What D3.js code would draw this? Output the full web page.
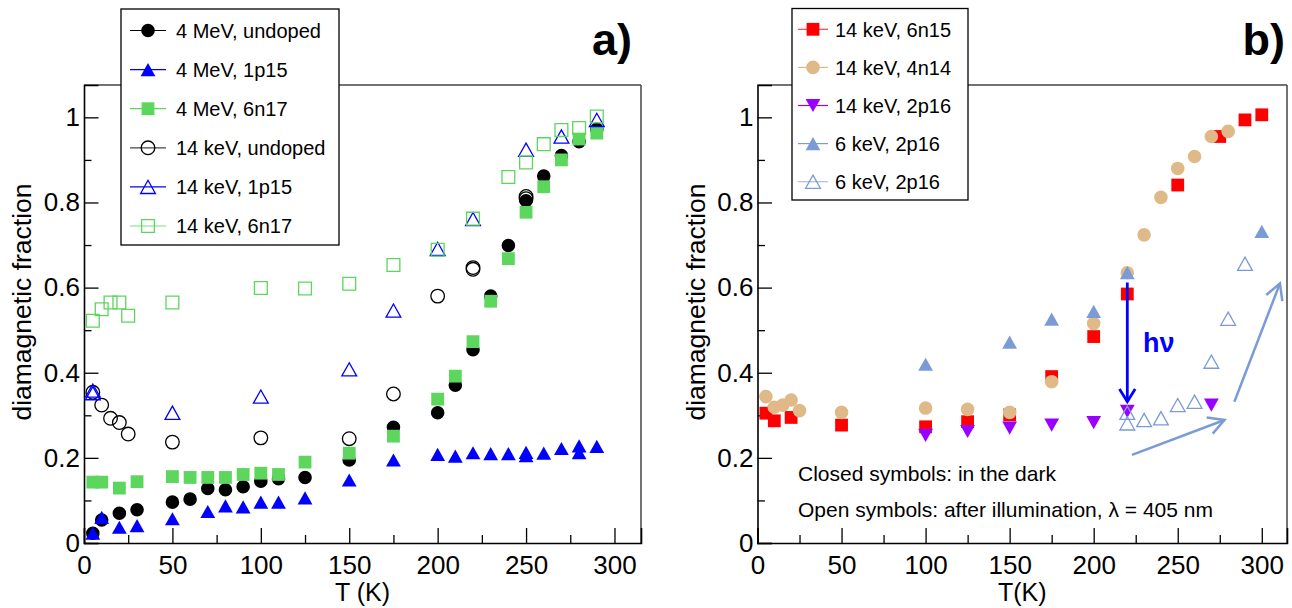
<!DOCTYPE html>
<html><head><meta charset="utf-8">
<script src="https://cdn.jsdelivr.net/npm/d3@7"></script>
<style>
body{margin:0;background:#fff}
svg{display:block}
text{font-family:"Liberation Sans",Arial,Helvetica,sans-serif;fill:#000}
</style>
</head><body>
<svg id="c" width="1292" height="608"></svg>
<script>
// ---------------- DATA ----------------
// Panel a)
const labelsA = ["4 MeV, undoped","4 MeV, 1p15","4 MeV, 6n17","14 keV, undoped","14 keV, 1p15","14 keV, 6n17"];
const tMeVUndoped = [5,10,20,30,50,60,70,80,90,100,110,125,150,175,200,210,220,230,240,250,260,270,280,290];
const vMeVUndoped = [0.023,0.054,0.070,0.078,0.096,0.103,0.128,0.125,0.132,0.145,0.151,0.154,0.195,0.272,0.306,0.371,0.454,0.580,0.699,0.804,0.862,0.910,0.943,0.972];
const tMeV1p15 = [5,10,20,30,50,70,80,90,100,110,125,150,175,200,210,220,230,240,250,250,260,270,280,280,290];
const vMeV1p15 = [0.023,0.060,0.037,0.041,0.057,0.074,0.087,0.085,0.096,0.096,0.106,0.148,0.195,0.208,0.204,0.212,0.210,0.210,0.213,0.205,0.211,0.222,0.228,0.212,0.227];
const tMeV6n17 = [5,10,20,30,50,60,70,80,90,100,110,125,150,175,200,210,220,230,240,250,260,270,280,290];
const vMeV6n17 = [0.143,0.143,0.129,0.144,0.156,0.154,0.154,0.154,0.161,0.164,0.161,0.190,0.211,0.251,0.338,0.392,0.473,0.568,0.668,0.777,0.837,0.900,0.949,0.963];
const tKeVUndoped = [5,10,15,20,25,50,100,150,175,200,220,220,250,250];
const vKeVUndoped = [0.354,0.324,0.293,0.283,0.256,0.237,0.247,0.245,0.350,0.580,0.643,0.647,0.809,0.814];
const tKeV1p15 = [5,5,50,100,150,175,200,220,250,270,290];
const vKeV1p15 = [0.352,0.358,0.306,0.344,0.408,0.546,0.691,0.761,0.924,0.955,0.994];
const tKeV6n17 = [5,10,15,20,25,50,100,125,150,175,200,220,240,250,260,270,280,290];
const vKeV6n17 = [0.522,0.549,0.565,0.565,0.534,0.565,0.599,0.598,0.609,0.653,0.689,0.762,0.860,0.894,0.937,0.970,0.975,1.002];

// Panel b)
const labelsB = ["14 keV, 6n15","14 keV, 4n14","14 keV, 2p16","6 keV, 2p16","6 keV, 2p16"];
const t6n15 = [5,10,20,50,100,125,150,175,200,220,250,275,290,300];
const v6n15 = [0.305,0.287,0.295,0.277,0.273,0.285,0.301,0.391,0.485,0.585,0.841,0.955,0.994,1.006];
const t4n14 = [5,10,15,20,25,50,100,125,150,175,200,220,230,240,250,260,270,280];
const v4n14 = [0.344,0.319,0.324,0.336,0.311,0.307,0.317,0.314,0.307,0.379,0.516,0.635,0.724,0.812,0.880,0.908,0.955,0.967];
const t14keV2p16 = [100,125,150,175,200,220,270];
const v14keV2p16 = [0.253,0.262,0.270,0.277,0.283,0.309,0.324];
const t6keVDark = [100,150,175,200,220,300];
const v6keVDark = [0.420,0.472,0.526,0.544,0.635,0.732];
const t6keVLight = [220,220,230,240,250,260,270,280,290];
const v6keVLight = [0.281,0.306,0.289,0.293,0.324,0.332,0.426,0.527,0.656];

// Annotation arrows (in data units: T, fraction)
const hvArrow = [[220,0.612],[220,0.332]];
const lightArrows = [[[222.8,0.207],[277.8,0.289]],[[283.7,0.332],[310.8,0.610]]];

// Axis ticks
const xMajor = [0,50,100,150,200,250,300];
const xMinor = [25,75,125,175,225,275];
const yMajor = [0,0.2,0.4,0.6,0.8,1];
const yMinor = [0.1,0.3,0.5,0.7,0.9];
const yTickLabels = ["0","0.2","0.4","0.6","0.8","1"];

// ---------------- STYLES ----------------
const stylesA = [
  {shape:"circle", color:"#000000", filled:true, line:"#000000"},
  {shape:"tri", color:"#0000ff", filled:true, line:"#0000ff"},
  {shape:"square", color:"#5cd65c", filled:true, line:"#5cd65c"},
  {shape:"circle", color:"#000000", filled:false, line:"#444444"},
  {shape:"tri", color:"#0000ff", filled:false, line:"#0000ff"},
  {shape:"square", color:"#5cd65c", filled:false, line:"#7ddc7d"}
];
const stylesB = [
  {shape:"square", color:"#ff0000", filled:true, line:"#ff4040"},
  {shape:"circle", color:"#dfba88", filled:true, line:"#dfba88"},
  {shape:"tridown", color:"#9900ff", filled:true, line:"#9900ff"},
  {shape:"tri", color:"#7b9bd6", filled:true, line:"#7b9bd6"},
  {shape:"tri", color:"#7b9bd6", filled:false, line:"#a9bde6"}
];

const seriesA = [[tMeVUndoped,vMeVUndoped],[tMeV1p15,vMeV1p15],[tMeV6n17,vMeV6n17],[tKeVUndoped,vKeVUndoped],[tKeV1p15,vKeV1p15],[tKeV6n17,vKeV6n17]];
const seriesB = [[t6n15,v6n15],[t4n14,v4n14],[t14keV2p16,v14keV2p16],[t6keVDark,v6keVDark],[t6keVLight,v6keVLight]];

function markerPath(shape){
  if(shape==="circle") return d3.symbol(d3.symbolCircle, Math.PI*6.8*6.8)();
  if(shape==="square"){const h=6.4;return `M${-h},${-h}H${h}V${h}H${-h}Z`;}
  const w=7.4, h=6.6;
  if(shape==="tri") return `M0,${-h}L${w},${h}L${-w},${h}Z`;
  return `M0,${h}L${w},${-h}L${-w},${-h}Z`;
}
function styleMarker(sel, st){
  sel.attr("d", markerPath(st.shape))
     .attr("fill", st.filled ? st.color : "none")
     .attr("stroke", st.filled ? "none" : st.color)
     .attr("stroke-width", st.filled ? 0 : 1.3);
}

const svg = d3.select("#c");
const y = d3.scaleLinear().domain([0,1.076]).range([543,85]);

const panels = [
  {x:d3.scaleLinear().domain([0,315]).range([84,641]), series:seriesA, styles:stylesA, labels:labelsA,
   tag:"a)", tagX:632, xTitle:"T (K)", yTitleX:22,
   legend:{x0:121,y0:9,x1:339,y1:245,first:30.5,step:39.1,mx:148,lx0:130,lx1:166,tx:176}},
  {x:d3.scaleLinear().domain([0,315]).range([757.5,1287]), series:seriesB, styles:stylesB, labels:labelsB,
   tag:"b)", tagX:1285, xTitle:"T(K)", yTitleX:696,
   legend:{x0:792,y0:8.5,x1:968,y1:200,first:29.3,step:38.1,mx:813,lx0:798,lx1:828,tx:835}}
];

panels.forEach((p,pi)=>{
  const x = p.x;
  const [xl,xr] = x.range(), [yb,yt] = y.range();
  const g = svg.append("g");
  // frame
  g.append("line").attr("x1",xl).attr("x2",xr).attr("y1",yt).attr("y2",yt).attr("stroke","#444").attr("stroke-width",1.5);
  g.append("line").attr("x1",xr).attr("x2",xr).attr("y1",yt).attr("y2",yb).attr("stroke","#444").attr("stroke-width",1.5);

  // axes
  const ax = d3.axisBottom(x).tickValues(xMajor).tickSize(-15).tickPadding(13).tickFormat(d3.format("d"));
  const axG = g.append("g").attr("transform",`translate(0,${yb})`).call(ax);
  const axm = d3.axisBottom(x).tickValues(xMinor).tickSize(-8).tickFormat("");
  g.append("g").attr("transform",`translate(0,${yb})`).call(axm).select(".domain").remove();
  const ay = d3.axisLeft(y).tickValues(yMajor).tickSize(-14.5).tickPadding(4).tickFormat((d,i)=>yTickLabels[i]);
  const ayG = g.append("g").attr("transform",`translate(${xl},0)`).call(ay);
  const aym = d3.axisLeft(y).tickValues(yMinor).tickSize(-7.5).tickFormat("");
  g.append("g").attr("transform",`translate(${xl},0)`).call(aym).select(".domain").remove();
  [axG,ayG].forEach(a=>{
    a.select(".domain").attr("stroke","#000").attr("stroke-width",1.6);
    a.selectAll("text").attr("font-size",26).attr("font-family","'Liberation Sans',Arial,sans-serif").attr("fill","#000");
  });
  g.selectAll(".tick line").attr("stroke","#000").attr("stroke-width",1.3);

  // titles
  g.append("text").attr("x",(xl+xr)/2).attr("y",601).attr("text-anchor","middle").attr("font-size",25).text(p.xTitle);
  g.append("text").attr("transform",`translate(${p.yTitleX},302) rotate(-90)`).attr("text-anchor","middle")
    .attr("dy","0.35em").attr("font-size",26.5).text("diamagnetic fraction");
  g.append("text").attr("x",p.tagX).attr("y",55).attr("text-anchor","end").attr("font-size",45).attr("font-weight","bold").text(p.tag);

  // data markers
  p.series.forEach(([ts,vs],si)=>{
    const st = p.styles[si];
    const pts = ts.map((t,i)=>[t,vs[i]]);
    g.append("g").selectAll("path").data(pts).join("path")
      .attr("transform",d=>`translate(${x(d[0])},${y(d[1])})`)
      .call(sel=>styleMarker(sel,st));
  });

  // annotations for panel b
  if(pi===1){
    const arrow=(a,b,color,w,len,ang)=>{
      const x1=x(a[0]),y1=y(a[1]),x2=x(b[0]),y2=y(b[1]);
      g.append("line").attr("x1",x1).attr("y1",y1).attr("x2",x2).attr("y2",y2).attr("stroke",color).attr("stroke-width",w);
      const th=Math.atan2(y2-y1,x2-x1);
      const pth=`M${x2-len*Math.cos(th-ang)},${y2-len*Math.sin(th-ang)}L${x2},${y2}L${x2-len*Math.cos(th+ang)},${y2-len*Math.sin(th+ang)}`;
      g.append("path").attr("d",pth).attr("fill","none").attr("stroke",color).attr("stroke-width",w).attr("stroke-linejoin","miter");
    };
    arrow(hvArrow[0],hvArrow[1],"#0000ff",2.8,15,0.55);
    lightArrows.forEach(a=>arrow(a[0],a[1],"#7b9bd6",2.5,18,0.5));
    g.append("text").attr("x",1143).attr("y",352).attr("font-size",27).attr("font-weight","bold").attr("fill","#0000ff").style("fill","#0000ff").text("h\u03BD");
    g.append("text").attr("x",798).attr("y",481).attr("font-size",21).text("Closed symbols: in the dark");
    g.append("text").attr("x",798).attr("y",517).attr("font-size",21).text("Open symbols: after illumination, \u03BB = 405 nm");
  }

  // legend
  const L = p.legend;
  const lg = svg.append("g");
  lg.append("rect").attr("x",L.x0).attr("y",L.y0).attr("width",L.x1-L.x0).attr("height",L.y1-L.y0)
    .attr("fill","#fff").attr("stroke","#000").attr("stroke-width",1.3);
  p.labels.forEach((lab,i)=>{
    const cy = L.first + i*L.step, st=p.styles[i];
    lg.append("line").attr("x1",L.lx0).attr("x2",L.lx1).attr("y1",cy).attr("y2",cy).attr("stroke",st.line).attr("stroke-width",1.2);
    lg.append("path").attr("transform",`translate(${L.mx},${cy})`).call(sel=>styleMarker(sel,st));
    lg.append("text").attr("x",L.tx).attr("y",cy).attr("dy","0.36em").attr("font-size",20).text(lab);
  });
});
</script>
</body></html>
